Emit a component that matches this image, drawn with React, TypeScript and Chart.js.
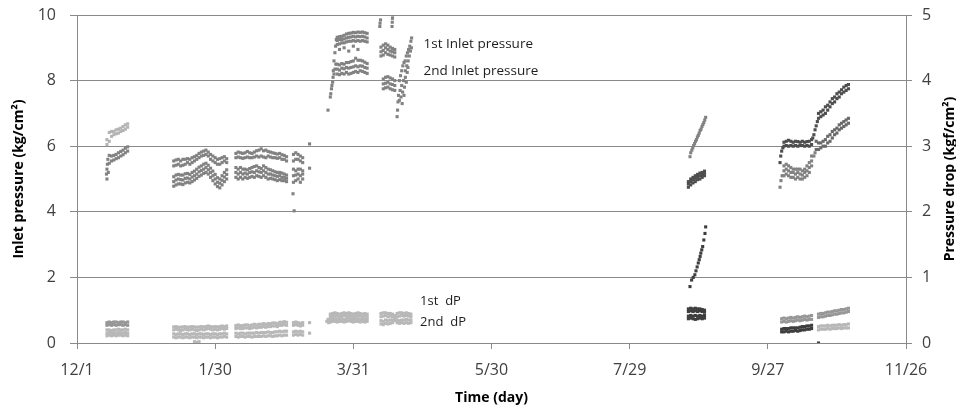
import React, { useEffect, useRef } from "react";
import { Chart, registerables } from "chart.js";

Chart.register(...registerables);

// ---------- axis ticks ----------
const xTickLabels = ["12/1", "1/30", "3/31", "5/30", "7/29", "9/27", "11/26"];
const xTickStepDays = 60;

// ---------- December run (days since 12/1) ----------
const decDays = [13, 14, 15, 16, 17, 18, 19, 20, 21, 22];
const dec1stLo = [6.05, 6.15, 6.3, 6.35, 6.38, 6.4, 6.45, 6.48, 6.52, 6.58];
const dec1stHi = [6.2, 6.42, 6.45, 6.45, 6.5, 6.52, 6.55, 6.6, 6.65, 6.68];
const dec2ndLo = [5.0, 5.48, 5.55, 5.58, 5.62, 5.65, 5.7, 5.74, 5.8, 5.85];
const dec2ndHi = [5.3, 5.72, 5.7, 5.72, 5.75, 5.8, 5.84, 5.88, 5.94, 5.98];
const decExtraDays = [12.8, 13.2, 13.4, 13.6];
const decExtra2nd = [5.15, 5.45, 5.6, 5.2];
const decDp1Lo = [0.27, 0.28, 0.27, 0.28, 0.27, 0.28, 0.28, 0.27, 0.28, 0.27];
const decDp1Hi = [0.31, 0.32, 0.31, 0.32, 0.32, 0.31, 0.32, 0.32, 0.31, 0.32];
const decDp2Lo = [0.11, 0.12, 0.11, 0.12, 0.11, 0.12, 0.12, 0.11, 0.12, 0.11];
const decDp2Mid = [0.15, 0.16, 0.15, 0.16, 0.15, 0.16, 0.16, 0.15, 0.16, 0.15];
const decDp2Hi = [0.2, 0.2, 0.19, 0.2, 0.2, 0.21, 0.2, 0.2, 0.21, 0.2];

// ---------- January run ----------
const janDays = [42, 43, 44, 45, 46, 47, 48, 49, 50, 51, 52, 53, 54, 55, 56, 57, 58, 59, 60, 61, 62, 63, 64, 65];
const jan1Lo = [5.4, 5.42, 5.45, 5.4, 5.42, 5.45, 5.5, 5.45, 5.5, 5.55, 5.6, 5.65, 5.7, 5.72, 5.75, 5.7, 5.6, 5.55, 5.5, 5.45, 5.45, 5.5, 5.55, 5.5];
const jan1Hi = [5.55, 5.58, 5.6, 5.55, 5.6, 5.6, 5.62, 5.6, 5.65, 5.68, 5.72, 5.78, 5.82, 5.85, 5.88, 5.82, 5.75, 5.7, 5.65, 5.6, 5.62, 5.65, 5.68, 5.62];
const jan2Lo = [4.78, 4.82, 4.85, 4.85, 4.83, 4.88, 4.9, 4.88, 4.92, 4.97, 5.02, 5.08, 5.12, 5.17, 5.2, 5.15, 5.05, 4.95, 4.85, 4.77, 4.73, 4.82, 4.92, 5.0];
const jan2Mid = [4.92, 4.97, 5.0, 4.98, 4.97, 5.02, 5.03, 5.0, 5.06, 5.1, 5.15, 5.22, 5.26, 5.3, 5.35, 5.28, 5.2, 5.1, 5.0, 4.9, 4.87, 4.96, 5.06, 5.14];
const jan2Hi = [5.07, 5.12, 5.14, 5.12, 5.12, 5.16, 5.17, 5.14, 5.2, 5.24, 5.3, 5.36, 5.4, 5.45, 5.48, 5.42, 5.33, 5.24, 5.14, 5.04, 5.0, 5.1, 5.2, 5.28];
const janDp1Lo = [0.2, 0.21, 0.2, 0.19, 0.2, 0.21, 0.2, 0.2, 0.21, 0.2, 0.19, 0.2, 0.21, 0.2, 0.21, 0.22, 0.21, 0.2, 0.21, 0.2, 0.21, 0.22, 0.21, 0.22];
const janDp1Hi = [0.245, 0.25, 0.24, 0.24, 0.245, 0.25, 0.24, 0.245, 0.25, 0.245, 0.24, 0.245, 0.25, 0.245, 0.25, 0.26, 0.25, 0.245, 0.25, 0.245, 0.25, 0.26, 0.25, 0.26];
const janDp2Lo = [0.09, 0.08, 0.09, 0.09, 0.08, 0.09, 0.09, 0.08, 0.09, 0.09, 0.08, 0.09, 0.09, 0.08, 0.09, 0.09, 0.08, 0.09, 0.09, 0.08, 0.09, 0.09, 0.1, 0.09];
const janDp2Hi = [0.14, 0.13, 0.14, 0.14, 0.13, 0.14, 0.14, 0.13, 0.14, 0.14, 0.13, 0.14, 0.14, 0.13, 0.14, 0.14, 0.13, 0.14, 0.14, 0.13, 0.14, 0.14, 0.15, 0.14];
const janDpLowDays = [51, 52, 53];
const janDpLow = [0.02, 0.01, 0.02];

// ---------- February run ----------
const febDays = [69, 70, 71, 72, 73, 74, 75, 76, 77, 78, 79, 80, 81, 82, 83, 84, 85, 86, 87, 88, 89, 90, 91];
const feb1Lo = [5.65, 5.67, 5.65, 5.63, 5.65, 5.67, 5.65, 5.65, 5.67, 5.7, 5.67, 5.7, 5.67, 5.65, 5.7, 5.67, 5.65, 5.65, 5.63, 5.65, 5.6, 5.6, 5.55];
const feb1Hi = [5.78, 5.82, 5.8, 5.78, 5.8, 5.84, 5.8, 5.78, 5.82, 5.86, 5.88, 5.92, 5.86, 5.88, 5.84, 5.82, 5.8, 5.78, 5.76, 5.78, 5.74, 5.72, 5.68];
const feb2Lo = [5.05, 5.0, 5.05, 5.0, 5.05, 5.02, 5.05, 5.08, 5.05, 5.1, 5.08, 5.05, 5.1, 5.05, 5.0, 5.02, 5.0, 4.98, 4.95, 4.98, 4.95, 4.95, 4.92];
const feb2Mid = [5.2, 5.15, 5.2, 5.15, 5.18, 5.15, 5.2, 5.22, 5.2, 5.25, 5.22, 5.2, 5.25, 5.2, 5.15, 5.15, 5.12, 5.1, 5.08, 5.1, 5.05, 5.05, 5.02];
const feb2Hi = [5.35, 5.3, 5.35, 5.3, 5.3, 5.28, 5.32, 5.35, 5.38, 5.4, 5.35, 5.32, 5.4, 5.35, 5.3, 5.28, 5.25, 5.22, 5.2, 5.2, 5.18, 5.15, 5.12];
const febDp1Lo = [0.22, 0.23, 0.22, 0.22, 0.23, 0.23, 0.22, 0.23, 0.24, 0.23, 0.24, 0.24, 0.25, 0.24, 0.25, 0.25, 0.26, 0.26, 0.25, 0.27, 0.27, 0.28, 0.27];
const febDp1Hi = [0.265, 0.275, 0.265, 0.265, 0.275, 0.275, 0.265, 0.275, 0.285, 0.275, 0.285, 0.285, 0.295, 0.285, 0.295, 0.295, 0.305, 0.305, 0.295, 0.315, 0.315, 0.325, 0.315];
const febDp2Lo = [0.1, 0.09, 0.1, 0.1, 0.09, 0.1, 0.1, 0.09, 0.1, 0.1, 0.1, 0.1, 0.11, 0.1, 0.11, 0.11, 0.1, 0.11, 0.11, 0.12, 0.11, 0.12, 0.12];
const febDp2Hi = [0.15, 0.14, 0.15, 0.15, 0.14, 0.15, 0.15, 0.15, 0.15, 0.16, 0.15, 0.16, 0.16, 0.16, 0.17, 0.16, 0.16, 0.17, 0.17, 0.18, 0.17, 0.18, 0.18];

// ---------- short run late February ----------
const p3Days = [94, 95, 96, 97, 98];
const p3In1Lo = [5.55, 5.6, 5.6, 5.55, 5.5];
const p3In1Hi = [5.75, 5.8, 5.75, 5.7, 5.65];
const p3In2Lo = [4.9, 4.95, 5.0, 4.9, 5.0];
const p3In2Mid = [5.1, 5.12, 5.15, 5.1, 5.15];
const p3In2Hi = [5.3, 5.25, 5.3, 5.3, 5.25];
const p3ExtraDays = [93.8, 94.3, 101];
const p3Extra2nd = [4.55, 4.03, 5.33];
const p3Extra1stDays = [101];
const p3Extra1st = [6.07];
const p3Dp1Lo = [0.27, 0.28, 0.27, 0.26, 0.27];
const p3Dp1Hi = [0.31, 0.32, 0.31, 0.3, 0.31];
const p3Dp2Lo = [0.12, 0.13, 0.12, 0.13, 0.12];
const p3Dp2Hi = [0.17, 0.18, 0.17, 0.18, 0.17];
const p3DpExtraDays = [101, 101];
const p3DpExtra = [0.31, 0.15];

// ---------- March / April run ----------
const marFront1Days = [109, 110, 110.5, 111, 111.3, 111.6, 112, 112.3, 112.6];
const marFront1 = [7.1, 7.5, 7.75, 7.95, 8.3, 8.6, 8.85, 9.05, 9.25];
const marFront2Days = [110.2, 110.7, 111.2, 111.6, 112, 112.4];
const marFront2 = [7.6, 7.85, 8.1, 8.2, 8.35, 8.5];
const marDays = [113, 114, 115, 116, 117, 118, 119, 120, 121, 122, 123, 124, 125, 126];
const mar1Lo = [9.1, 9.12, 9.15, 9.15, 9.18, 9.2, 9.2, 9.22, 9.2, 9.22, 9.2, 9.22, 9.2, 9.18];
const mar1Mid = [9.22, 9.25, 9.25, 9.27, 9.3, 9.32, 9.33, 9.35, 9.33, 9.35, 9.34, 9.35, 9.33, 9.3];
const mar1Hi = [9.32, 9.34, 9.35, 9.38, 9.42, 9.44, 9.45, 9.47, 9.46, 9.48, 9.47, 9.48, 9.46, 9.44];
const mar2Lo = [8.2, 8.18, 8.22, 8.2, 8.25, 8.2, 8.22, 8.25, 8.28, 8.25, 8.3, 8.28, 8.25, 8.22];
const mar2Mid = [8.35, 8.32, 8.38, 8.36, 8.4, 8.38, 8.4, 8.42, 8.45, 8.42, 8.45, 8.44, 8.4, 8.38];
const mar2Hi = [8.5, 8.48, 8.52, 8.5, 8.55, 8.55, 8.58, 8.6, 8.68, 8.62, 8.62, 8.6, 8.56, 8.52];
const marScatterDays = [114, 116, 118, 120, 122];
const marScatter1 = [8.95, 9.0, 8.9, 9.05, 8.95];
const marHighDays = [131.5, 131.6, 131.8, 136.8, 136.9, 137, 137.1];
const marHigh1 = [9.65, 9.75, 9.85, 9.65, 9.78, 9.9, 10.0];
const mar1bDays = [132, 133, 134, 135, 136, 137, 138];
const mar1bLo = [8.75, 8.78, 8.85, 8.8, 8.78, 8.75, 8.72];
const mar1bMid = [8.88, 8.92, 9.0, 8.95, 8.9, 8.88, 8.85];
const mar1bHi = [9.02, 9.08, 9.12, 9.08, 9.02, 8.98, 8.95];
const mar2bDays = [133, 134, 135, 136, 137, 138];
const mar2bLo = [7.75, 7.78, 7.8, 7.75, 7.72, 7.7];
const mar2bMid = [7.9, 7.92, 7.95, 7.9, 7.88, 7.85];
const mar2bHi = [8.05, 8.1, 8.12, 8.08, 8.05, 8.0];
const mar1cDays = [140, 140.5, 141, 141.5, 142, 142.5, 143, 143.5, 144, 144.5, 145, 145.3, 142.6, 143.2, 143.8, 144.3, 144.8, 145.2];
const mar1c = [8.0, 8.15, 8.3, 8.45, 8.55, 8.6, 8.75, 8.85, 8.95, 9.05, 9.2, 9.3, 8.3, 8.45, 8.6, 8.75, 8.9, 9.0];
const mar2cDays = [139, 139.2, 139.4, 139.6, 140, 140.3, 140.7, 141, 141.2, 141.4, 141.8, 142, 142.2, 142.6, 143, 143.4, 143.7];
const mar2c = [6.9, 7.1, 7.35, 7.55, 7.4, 7.7, 7.5, 7.85, 7.3, 7.65, 8.0, 7.55, 7.8, 8.1, 7.95, 8.25, 8.4];
const marDpDays = [110, 111, 112, 113, 114, 115, 116, 117, 118, 119, 120, 121, 122, 123, 124, 125, 126];
const marDp1Lo = [0.4, 0.41, 0.42, 0.41, 0.4, 0.41, 0.42, 0.41, 0.42, 0.41, 0.4, 0.41, 0.42, 0.41, 0.4, 0.41, 0.4];
const marDp1Hi = [0.44, 0.45, 0.46, 0.45, 0.44, 0.45, 0.46, 0.45, 0.46, 0.45, 0.44, 0.45, 0.46, 0.45, 0.44, 0.45, 0.44];
const marDp2Lo = [0.32, 0.33, 0.33, 0.32, 0.33, 0.33, 0.32, 0.33, 0.34, 0.33, 0.32, 0.33, 0.33, 0.32, 0.33, 0.32, 0.33];
const marDp2Hi = [0.36, 0.37, 0.37, 0.36, 0.37, 0.37, 0.36, 0.37, 0.38, 0.37, 0.36, 0.37, 0.37, 0.36, 0.37, 0.36, 0.37];
const marDpExtraDays = [108.5, 109, 109.3];
const marDpExtra = [0.33, 0.36, 0.31];
const marDpbDays = [132, 133, 134, 135, 136, 137, 138, 139, 140, 141, 142, 143, 144, 145];
const marDpb1Lo = [0.4, 0.41, 0.42, 0.4, 0.41, 0.4, 0.38, 0.4, 0.41, 0.42, 0.41, 0.42, 0.41, 0.4];
const marDpb1Hi = [0.45, 0.46, 0.46, 0.45, 0.45, 0.44, 0.42, 0.45, 0.46, 0.46, 0.45, 0.46, 0.45, 0.44];
const marDpb2Lo = [0.29, 0.28, 0.3, 0.29, 0.3, 0.31, 0.34, 0.31, 0.3, 0.31, 0.3, 0.31, 0.3, 0.31];
const marDpb2Hi = [0.34, 0.33, 0.35, 0.34, 0.35, 0.35, 0.37, 0.35, 0.34, 0.35, 0.35, 0.36, 0.35, 0.35];

// ---------- August run ----------
const aug1Days = [266.2, 266.5, 267, 267.4, 267.8, 268.2, 268.6, 269, 269.4, 269.8, 270.2, 270.6, 271, 271.4, 271.8, 272.2, 272.6, 273];
const aug1 = [5.68, 5.8, 5.88, 5.95, 6.02, 6.08, 6.15, 6.2, 6.28, 6.33, 6.4, 6.48, 6.52, 6.6, 6.66, 6.72, 6.8, 6.88];
const aug2Days = [265.5, 266.5, 267.5, 268.5, 269.5, 270.5, 271.5, 272.5];
const aug2Lo = [4.75, 4.82, 4.88, 4.92, 4.98, 5.0, 5.05, 5.1];
const aug2Mid = [4.85, 4.92, 4.98, 5.02, 5.07, 5.1, 5.12, 5.18];
const aug2Hi = [4.92, 5.0, 5.05, 5.1, 5.14, 5.18, 5.2, 5.24];
const augLineDays = [266.2, 266.9, 267.6, 268.3, 268.8, 269.3, 269.8, 270.2, 270.6, 270.9, 271.3, 271.7, 272.2, 272.7, 273.0];
const augLineDp = [0.86, 0.96, 1.0, 1.04, 1.1, 1.16, 1.22, 1.27, 1.32, 1.37, 1.42, 1.47, 1.57, 1.67, 1.77];
const augDpA = [0.37, 0.38, 0.37, 0.36, 0.37, 0.38, 0.37, 0.38];
const augDpB = [0.41, 0.42, 0.41, 0.42, 0.41, 0.42, 0.41, 0.42];
const augDpC = [0.48, 0.49, 0.48, 0.49, 0.48, 0.49, 0.48, 0.47];
const augDpD = [0.52, 0.53, 0.52, 0.53, 0.52, 0.52, 0.51, 0.5];

// ---------- September / October run ----------
const sep1FrontDays = [305.3, 305.6, 306, 306.5];
const sep1Front = [5.5, 5.7, 5.85, 5.95];
const sepDays = [307, 308, 309, 310, 311, 312, 313, 314, 315, 316, 317, 318, 319];
const sep1Lo = [6.0, 6.02, 6.0, 6.02, 6.0, 6.02, 6.0, 6.02, 6.02, 6.0, 6.02, 6.0, 6.05];
const sep1Hi = [6.12, 6.15, 6.18, 6.15, 6.12, 6.15, 6.14, 6.12, 6.15, 6.12, 6.14, 6.15, 6.2];
const sep1RiseDays = [319.5, 320, 320.5, 321, 321.5];
const sep1Rise = [6.25, 6.35, 6.5, 6.62, 6.75];
const sep2FrontDays = [305.3, 305.7, 306.2];
const sep2Front = [4.75, 4.95, 5.1];
const sep2Lo = [5.1, 5.15, 5.1, 5.05, 5.05, 5.0, 5.05, 5.0, 5.0, 5.05, 5.1, 5.2, 5.4];
const sep2Mid = [5.25, 5.3, 5.25, 5.2, 5.2, 5.15, 5.2, 5.15, 5.12, 5.2, 5.25, 5.35, 5.55];
const sep2Hi = [5.4, 5.45, 5.4, 5.35, 5.3, 5.3, 5.3, 5.3, 5.25, 5.3, 5.4, 5.5, 5.7];
const sep2RiseDays = [320, 320.5];
const sep2Rise = [5.7, 5.8];
const oct1Days = [322, 323, 324, 325, 326, 327, 328, 329, 330, 331, 332, 333, 334, 335];
const oct1Lo = [6.85, 6.9, 6.95, 7.0, 7.1, 7.2, 7.3, 7.35, 7.45, 7.5, 7.6, 7.65, 7.7, 7.75];
const oct1Hi = [7.0, 7.05, 7.1, 7.2, 7.25, 7.35, 7.45, 7.5, 7.6, 7.65, 7.72, 7.8, 7.85, 7.88];
const oct2Days = [321, 322, 323, 324, 325, 326, 327, 328, 329, 330, 331, 332, 333, 334, 335];
const oct2Lo = [5.9, 5.9, 5.95, 6.0, 6.0, 6.1, 6.15, 6.25, 6.35, 6.4, 6.5, 6.55, 6.6, 6.65, 6.7];
const oct2Hi = [6.15, 6.1, 6.1, 6.15, 6.2, 6.3, 6.35, 6.45, 6.5, 6.55, 6.65, 6.7, 6.75, 6.8, 6.85];
const sepDpDays = [306, 307, 308, 309, 310, 311, 312, 313, 314, 315, 316, 317, 318, 319];
const sepDp1Lo = [0.32, 0.33, 0.32, 0.33, 0.34, 0.33, 0.34, 0.35, 0.34, 0.35, 0.36, 0.35, 0.36, 0.36];
const sepDp1Hi = [0.37, 0.38, 0.37, 0.38, 0.39, 0.38, 0.39, 0.4, 0.39, 0.4, 0.41, 0.4, 0.41, 0.42];
const sepDp2Lo = [0.17, 0.17, 0.18, 0.17, 0.18, 0.18, 0.19, 0.18, 0.19, 0.2, 0.2, 0.21, 0.21, 0.22];
const sepDp2Hi = [0.21, 0.22, 0.22, 0.22, 0.23, 0.23, 0.23, 0.23, 0.24, 0.25, 0.25, 0.26, 0.26, 0.27];
const octDpDays = [322, 323, 324, 325, 326, 327, 328, 329, 330, 331, 332, 333, 334, 335];
const octDp1Lo = [0.39, 0.4, 0.4, 0.41, 0.42, 0.42, 0.43, 0.44, 0.44, 0.45, 0.46, 0.46, 0.47, 0.48];
const octDp1Hi = [0.44, 0.45, 0.45, 0.46, 0.47, 0.47, 0.48, 0.49, 0.49, 0.5, 0.51, 0.51, 0.52, 0.53];
const octDp2Lo = [0.2, 0.21, 0.21, 0.21, 0.22, 0.21, 0.22, 0.22, 0.22, 0.23, 0.22, 0.23, 0.23, 0.23];
const octDp2Hi = [0.25, 0.26, 0.26, 0.26, 0.27, 0.26, 0.27, 0.27, 0.27, 0.28, 0.27, 0.28, 0.28, 0.29];
const zeroDays = [322];
const zeroDp = [0.0];

// ---------- text labels (anchored in data units) ----------
const inletLabels = ["1st Inlet pressure", "2nd Inlet pressure"];
const inletLabelX = 150.5;
const inletLabelY = [9.1, 8.28];
const dpLabels = ["1st  dP", "2nd  dP"];
const dpLabelX = 149;
const dpLabelY = [0.64, 0.32];

type P = { x: number; y: number };
function band(days: number[], ...rows: number[][]): P[] {
  const out: P[] = [];
  rows.forEach((r) => r.forEach((v, i) => out.push({ x: days[i], y: v })));
  return out;
}

const GRID = "#8a8a8a";
const TICK = "#404040";

const textPlugin = {
  id: "texts",
  afterDraw(chart: any) {
    const { ctx, scales, chartArea } = chart;
    const sx = scales.x, sy = scales.y, sy1 = scales.y1;
    ctx.save();
    ctx.fillStyle = "#1e1e1e";
    ctx.textAlign = "left";
    ctx.textBaseline = "middle";
    ctx.font = '13.5px "Open Sans"';
    inletLabels.forEach((t, i) => ctx.fillText(t, sx.getPixelForValue(inletLabelX), sy.getPixelForValue(inletLabelY[i])));
    ctx.font = '13px "Open Sans"';
    dpLabels.forEach((t, i) => ctx.fillText(t, sx.getPixelForValue(dpLabelX), sy1.getPixelForValue(dpLabelY[i])));

    ctx.fillStyle = "#000";
    ctx.font = 'bold 14px "Open Sans"';
    ctx.textAlign = "center";
    ctx.textBaseline = "alphabetic";
    const cy = (chartArea.top + chartArea.bottom) / 2;
    ctx.fillText("Time (day)", (chartArea.left + chartArea.right) / 2, 402);
    ctx.save();
    ctx.translate(22.5, cy);
    ctx.rotate(-Math.PI / 2);
    ctx.fillText("Inlet pressure (kg/cm²)", 0, 0);
    ctx.restore();
    ctx.save();
    ctx.translate(954, cy);
    ctx.rotate(-Math.PI / 2);
    ctx.fillText("Pressure drop (kgf/cm²)", 0, 0);
    ctx.restore();
    ctx.restore();
  },
};

function ds(label: string, data: P[], color: string, axis: string) {
  return {
    label,
    data,
    yAxisID: axis,
    backgroundColor: color,
    borderColor: color,
    borderWidth: 0,
    pointStyle: "rect",
    pointRadius: 2.2,
    showLine: false,
  };
}

function fixVertical(width: number) {
  return (s: any) => {
    s.width = width;
    s.paddingTop = 0;
    s.paddingBottom = 0;
  };
}

export default function App() {
  const ref = useRef<HTMLCanvasElement | null>(null);
  useEffect(() => {
    document.body.style.margin = "0";
    const inletLight = band(decDays, dec1stLo, dec1stHi);
    const inletMid = [
      ...band(decDays, dec2ndLo, dec2ndHi),
      ...band(decExtraDays, decExtra2nd),
      ...band(janDays, jan1Lo, jan1Hi, jan2Lo, jan2Mid, jan2Hi),
      ...band(febDays, feb1Lo, feb1Hi, feb2Lo, feb2Mid, feb2Hi),
      ...band(p3Days, p3In1Lo, p3In1Hi, p3In2Lo, p3In2Mid, p3In2Hi),
      ...band(p3ExtraDays, p3Extra2nd),
      ...band(p3Extra1stDays, p3Extra1st),
      ...band(marFront1Days, marFront1),
      ...band(marFront2Days, marFront2),
      ...band(marDays, mar1Lo, mar1Mid, mar1Hi, mar2Lo, mar2Mid, mar2Hi),
      ...band(marScatterDays, marScatter1),
      ...band(marHighDays, marHigh1),
      ...band(mar1bDays, mar1bLo, mar1bMid, mar1bHi),
      ...band(mar2bDays, mar2bLo, mar2bMid, mar2bHi),
      ...band(mar1cDays, mar1c),
      ...band(mar2cDays, mar2c),
      ...band(aug1Days, aug1),
      ...band(sep2FrontDays, sep2Front),
      ...band(sepDays, sep2Lo, sep2Mid, sep2Hi),
      ...band(sep2RiseDays, sep2Rise),
    ];
    const inletDark = [
      ...band(aug2Days, aug2Lo, aug2Mid, aug2Hi),
      ...band(sep1FrontDays, sep1Front),
      ...band(sepDays, sep1Lo, sep1Hi),
      ...band(sep1RiseDays, sep1Rise),
      ...band(oct1Days, oct1Lo, oct1Hi),
    ];
    const inletDarkMid = band(oct2Days, oct2Lo, oct2Hi);
    const dpLight = [
      ...band(decDays, decDp2Lo, decDp2Mid, decDp2Hi),
      ...band(janDays, janDp1Lo, janDp1Hi, janDp2Lo, janDp2Hi),
      ...band(janDpLowDays, janDpLow),
      ...band(febDays, febDp1Lo, febDp1Hi, febDp2Lo, febDp2Hi),
      ...band(p3Days, p3Dp1Lo, p3Dp1Hi, p3Dp2Lo, p3Dp2Hi),
      ...band(p3DpExtraDays, p3DpExtra),
      ...band(marDpDays, marDp1Lo, marDp1Hi, marDp2Lo, marDp2Hi),
      ...band(marDpExtraDays, marDpExtra),
      ...band(marDpbDays, marDpb1Lo, marDpb1Hi, marDpb2Lo, marDpb2Hi),
      ...band(octDpDays, octDp2Lo, octDp2Hi),
    ];
    const dpMid = [
      ...band(decDays, decDp1Lo, decDp1Hi),
      ...band(sepDpDays, sepDp1Lo, sepDp1Hi),
      ...band(octDpDays, octDp1Lo, octDp1Hi),
    ];
    const dpDark = [
      ...band(aug2Days, augDpA, augDpB, augDpC, augDpD),
      ...band(augLineDays, augLineDp),
      ...band(sepDpDays, sepDp2Lo, sepDp2Hi),
      ...band(zeroDays, zeroDp),
    ];

    const tickFont = { family: "Open Sans", size: 16 };
    const chart = new Chart(ref.current as HTMLCanvasElement, {
      type: "scatter",
      data: {
        datasets: [
          ds("1st/2nd Inlet pressure (light)", inletLight, "#b4b4b4", "y"),
          ds("Inlet pressure", inletMid, "#828282", "y"),
          ds("Inlet pressure (dark)", inletDark, "#4e4e4e", "y"),
          ds("Inlet pressure (dark mid)", inletDarkMid, "#6a6a6a", "y"),
          ds("dP (light)", dpLight, "#b8b8b8", "y1"),
          ds("dP (mid)", dpMid, "#979797", "y1"),
          ds("dP (dark)", dpDark, "#3e3e3e", "y1"),
        ] as any,
      },
      options: {
        animation: false,
        responsive: true,
        maintainAspectRatio: false,
        devicePixelRatio: 1,
        layout: { padding: { top: 15, left: 0, right: 0, bottom: 0 } },
        plugins: { legend: { display: false }, tooltip: { enabled: false } },
        scales: {
          x: {
            type: "linear",
            min: 0,
            max: xTickStepDays * (xTickLabels.length - 1),
            grid: { display: true, drawOnChartArea: false, drawTicks: true, tickLength: 6, color: GRID },
            border: { display: true, color: GRID },
            ticks: {
              stepSize: xTickStepDays,
              autoSkip: false,
              maxRotation: 0,
              padding: 12,
              color: TICK,
              font: tickFont,
              callback: (v: any) => xTickLabels[Math.round(Number(v) / xTickStepDays)] ?? "",
            },
            afterFit: (s: any) => {
              s.height = 67;
              s.paddingLeft = 0;
              s.paddingRight = 0;
            },
          },
          y: {
            position: "left",
            min: 0,
            max: 10,
            grid: { display: true, drawOnChartArea: true, drawTicks: true, tickLength: 7, color: GRID },
            border: { display: true, color: GRID },
            ticks: { stepSize: 2, padding: 14, color: TICK, font: tickFont },
            afterFit: fixVertical(77),
          },
          y1: {
            position: "right",
            min: 0,
            max: 5,
            grid: { display: true, drawOnChartArea: false, drawTicks: true, tickLength: 6, color: GRID },
            border: { display: true, color: GRID },
            ticks: { stepSize: 1, padding: 10, color: TICK, font: tickFont },
            afterFit: fixVertical(50),
          },
        },
      } as any,
      plugins: [textPlugin],
    });
    return () => chart.destroy();
  }, []);
  return (
    <div style={{ width: 956, height: 410, position: "relative" }}>
      <canvas ref={ref} />
    </div>
  );
}
